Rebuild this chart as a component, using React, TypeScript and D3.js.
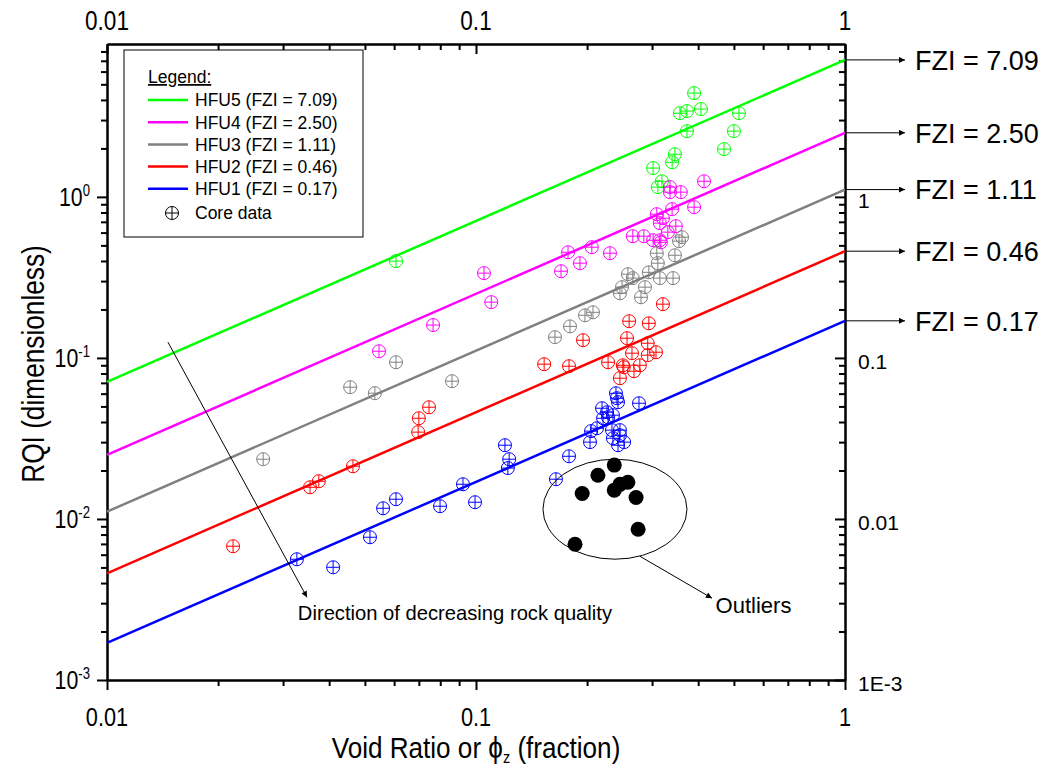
import React, { useRef, useEffect } from "react";
import * as d3 from "d3";

// hydraulic flow units, top to bottom
const unitNames = ["HFU5", "HFU4", "HFU3", "HFU2", "HFU1"];
const fziValues = [7.09, 2.5, 1.11, 0.46, 0.17];
const fziLabels = ["7.09", "2.50", "1.11", "0.46", "0.17"];
const unitColors = ["#00ff00", "#ff00ff", "#808080", "#ff0000", "#0000ff"];

// core data, [void ratio, RQI]
const hfu5Core = [
  [0.39, 4.41], [0.357, 3.31], [0.373, 3.41], [0.407, 3.51], [0.516, 3.31],
  [0.373, 2.56], [0.5, 2.56], [0.47, 1.98], [0.346, 1.84], [0.34, 1.64],
  [0.302, 1.51], [0.319, 1.25], [0.311, 1.15], [0.0607, 0.399],
];
const hfu4Core = [
  [0.415, 1.25], [0.3355, 1.15], [0.3355, 1.07], [0.359, 1.07], [0.39, 0.863],
  [0.34, 0.839], [0.309, 0.781], [0.321, 0.737], [0.315, 0.687], [0.348, 0.658],
  [0.331, 0.604], [0.315, 0.538], [0.266, 0.57], [0.285, 0.57], [0.302, 0.538],
  [0.317, 0.523], [0.206, 0.487], [0.1776, 0.453], [0.2307, 0.447], [0.1913, 0.3875],
  [0.17, 0.3455], [0.1051, 0.336], [0.11, 0.222], [0.0765, 0.16], [0.0546, 0.11],
];
const hfu3Core = [
  [0.3616, 0.562], [0.355, 0.531], [0.309, 0.447], [0.346, 0.434], [0.311, 0.3875],
  [0.294, 0.34], [0.258, 0.331], [0.266, 0.313], [0.315, 0.313], [0.342, 0.313],
  [0.287, 0.275], [0.2487, 0.275], [0.2455, 0.252], [0.28, 0.238], [0.2075, 0.192],
  [0.1974, 0.184], [0.1798, 0.157], [0.1637, 0.1345], [0.0607, 0.094], [0.0456, 0.0658],
  [0.0532, 0.0604], [0.0861, 0.0717], [0.0265, 0.0235],
];
const hfu2Core = [
  [0.321, 0.2157], [0.26, 0.169], [0.294, 0.164], [0.195, 0.1288], [0.2566, 0.1326],
  [0.292, 0.1234], [0.3075, 0.1085], [0.2647, 0.107], [0.292, 0.104], [0.228, 0.094],
  [0.25, 0.09], [0.2515, 0.0876], [0.278, 0.09], [0.268, 0.0827], [0.2455, 0.0748],
  [0.153, 0.0914], [0.1787, 0.0888], [0.0746, 0.0494], [0.07, 0.0422], [0.0697, 0.0346],
  [0.0464, 0.02125], [0.0375, 0.01715], [0.0355, 0.01573], [0.02196, 0.00677],
];
const hfu1Core = [
  [0.2395, 0.0603], [0.241, 0.0562], [0.2426, 0.0531], [0.2765, 0.0523], [0.2196, 0.0487],
  [0.2265, 0.046], [0.235, 0.0441], [0.221, 0.0422], [0.228, 0.0428], [0.2128, 0.0366],
  [0.205, 0.0351], [0.2037, 0.03], [0.2336, 0.0356], [0.2455, 0.0356], [0.235, 0.0317],
  [0.2455, 0.0331], [0.2426, 0.0287], [0.252, 0.03], [0.1198, 0.0287], [0.123, 0.0235],
  [0.122, 0.0207], [0.1787, 0.0245], [0.1647, 0.01765], [0.0922, 0.01642], [0.0994, 0.0127],
  [0.0799, 0.012], [0.0607, 0.01326], [0.056, 0.01165], [0.0516, 0.0077], [0.0327, 0.00562],
  [0.041, 0.00501],
];
const coreByUnit = [hfu5Core, hfu4Core, hfu3Core, hfu2Core, hfu1Core];

const outliers = [
  [0.237, 0.0216], [0.214, 0.0187], [0.194, 0.0144], [0.237, 0.0151], [0.2455, 0.0164],
  [0.258, 0.0169], [0.2715, 0.0136], [0.275, 0.00863], [0.1855, 0.00697],
];

const xMajor = [0.01, 0.1, 1];
const xMajorLabels = ["0.01", "0.1", "1"];
const yMajor = [0.001, 0.01, 0.1, 1];
const yExponents = ["-3", "-2", "-1", "0"];
const yRightLabels = ["1E-3", "0.01", "0.1", "1"];

const sans = "'Liberation Sans', Arial, sans-serif";
const squeeze = 0.82; // no narrow face installed, so squeeze Liberation Sans

const App = () => {
  const svgRef = useRef(null);

  useEffect(() => {
    const svg = d3.select(svgRef.current);
    svg.selectAll("*").remove();
    const width = 1045;
    const height = 770;
    const margin = { top: 44, right: 200, bottom: 90, left: 107 };
    const x = d3.scaleLog().domain([0.01, 1]).range([margin.left, width - margin.right]);
    const y = d3.scaleLog().domain([0.001, 8.9]).range([height - margin.bottom, margin.top]);
    const minorX = x.ticks().filter((v) => !xMajor.includes(v));
    const minorY = y.ticks().filter((v) => !yMajor.some((m) => Math.abs(m - v) < 1e-12));
    const bottom = height - margin.bottom;
    const right = width - margin.right;

    svg.append("rect").attr("width", width).attr("height", height).attr("fill", "#fff");

    svg
      .append("defs")
      .append("marker")
      .attr("id", "arrow")
      .attr("viewBox", "0 0 10 10")
      .attr("refX", 10)
      .attr("refY", 5)
      .attr("markerWidth", 15)
      .attr("markerHeight", 6)
      .attr("markerUnits", "userSpaceOnUse")
      .attr("orient", "auto")
      .append("path")
      .attr("d", "M0,0 L10,5 L0,10 z")
      .attr("fill", "#000");

    // axes (ticks only, labels drawn below)
    const style = (g) =>
      g
        .call((g) => g.selectAll("line").attr("stroke", "#000").attr("stroke-width", 2))
        .call((g) => g.select(".domain").attr("stroke", "#000").attr("stroke-width", 2));
    const axis = (gen, tx, ty, values, size) =>
      svg
        .append("g")
        .attr("transform", `translate(${tx},${ty})`)
        .call(gen.tickValues(values).tickSize(size).tickSizeOuter(0).tickFormat(() => ""))
        .call(style);

    axis(d3.axisBottom(x), 0, bottom, minorX, 6);
    axis(d3.axisBottom(x), 0, bottom, xMajor, 10);
    axis(d3.axisTop(x), 0, margin.top, minorX, -6);
    axis(d3.axisTop(x), 0, margin.top, xMajor, -10);
    axis(d3.axisLeft(y), margin.left, 0, minorY, 6);
    axis(d3.axisLeft(y), margin.left, 0, yMajor, 10);
    axis(d3.axisRight(y), right, 0, minorY, -6);
    axis(d3.axisRight(y), right, 0, yMajor, -10);

    // tick labels
    const narrowText = (px, py, anchor, size, sx = squeeze) =>
      svg
        .append("text")
        .attr("transform", `translate(${px},${py}) scale(${sx},1)`)
        .attr("text-anchor", anchor)
        .attr("font-family", sans)
        .attr("font-size", size);

    xMajor.forEach((v, i) => {
      narrowText(x(v), bottom + 46, "middle", 26.5).text(xMajorLabels[i]);
      narrowText(x(v), margin.top - 14, "middle", 27.5).text(xMajorLabels[i]);
    });
    yMajor.forEach((v, i) => {
      const t = narrowText(margin.left - 17, y(v) + 9, "end", 26);
      t.append("tspan").text("10");
      t.append("tspan").attr("dy", -10).attr("font-size", 16).text(yExponents[i]);
      svg
        .append("text")
        .attr("x", right + 13)
        .attr("y", y(v) + 11)
        .attr("font-family", sans)
        .attr("font-size", 21)
        .text(yRightLabels[i]);
    });

    // axis titles
    svg
      .append("text")
      .attr("transform", `translate(44,${(margin.top + bottom) / 2 + 2}) rotate(-90) scale(${squeeze},1)`)
      .attr("text-anchor", "middle")
      .attr("font-family", sans)
      .attr("font-size", 32)
      .text("RQI (dimensionless)");

    const xTitle = narrowText((margin.left + right) / 2, 758, "middle", 29, 0.9);
    xTitle.append("tspan").text("Void Ratio or ");
    xTitle.append("tspan").text("\u03d5");
    xTitle.append("tspan").attr("dy", 5).attr("font-size", 16).text("z");
    xTitle.append("tspan").attr("dy", -5).text(" (fraction)");

    // FZI lines: RQI = FZI * void ratio
    const line = d3.line().x((d) => x(d[0])).y((d) => y(d[1]));
    fziValues.forEach((f, i) => {
      svg
        .append("path")
        .datum([[0.01, f * 0.01], [1, f]])
        .attr("d", line)
        .attr("fill", "none")
        .attr("stroke", unitColors[i])
        .attr("stroke-width", 2.5);
    });

    // core data markers
    const r = 6.5;
    coreByUnit.forEach((pts, i) => {
      const g = svg
        .append("g")
        .attr("fill", "none")
        .attr("stroke", unitColors[i])
        .attr("stroke-width", 1)
        .selectAll("g")
        .data(pts)
        .join("g")
        .attr("transform", (d) => `translate(${x(d[0])},${y(d[1])})`);
      g.append("circle").attr("r", r);
      g.append("path").attr("d", `M${-r},0H${r}M0,${-r}V${r}`);
    });

    // outliers
    svg
      .append("g")
      .selectAll("circle")
      .data(outliers)
      .join("circle")
      .attr("cx", (d) => x(d[0]))
      .attr("cy", (d) => y(d[1]))
      .attr("r", 7.5)
      .attr("fill", "#000");

    svg
      .append("ellipse")
      .attr("cx", x(0.238))
      .attr("cy", y(0.0115))
      .attr("rx", 72)
      .attr("ry", 50)
      .attr("fill", "none")
      .attr("stroke", "#000")
      .attr("stroke-width", 1);

    svg
      .append("line")
      .attr("x1", x(0.278))
      .attr("y1", y(0.00587))
      .attr("x2", x(0.436))
      .attr("y2", y(0.00322))
      .attr("stroke", "#000")
      .attr("marker-end", "url(#arrow)");
    svg
      .append("text")
      .attr("x", x(0.446))
      .attr("y", y(0.00322) + 15)
      .attr("font-family", sans)
      .attr("font-size", 22)
      .text("Outliers");

    // direction of decreasing quality
    svg
      .append("line")
      .attr("x1", x(0.01463))
      .attr("y1", y(0.1252))
      .attr("x2", x(0.03483))
      .attr("y2", y(0.003264))
      .attr("stroke", "#000")
      .attr("marker-end", "url(#arrow)");
    svg
      .append("text")
      .attr("x", x(0.0329))
      .attr("y", y(0.003264) + 23)
      .attr("font-family", sans)
      .attr("font-size", 20.2)
      .text("Direction of decreasing rock quality");

    // FZI callouts on the right
    fziValues.forEach((f, i) => {
      svg
        .append("line")
        .attr("x1", right)
        .attr("x2", right + 60)
        .attr("y1", y(f))
        .attr("y2", y(f))
        .attr("stroke", "#000")
        .attr("stroke-width", 1)
        .attr("marker-end", "url(#arrow)");
      svg
        .append("text")
        .attr("x", right + 70)
        .attr("y", y(f))
        .attr("dy", "0.36em")
        .attr("font-family", sans)
        .attr("font-size", 27)
        .text(`FZI = ${fziLabels[i]}`);
    });

    // legend
    const legend = svg.append("g").attr("transform", "translate(124,50)");
    legend
      .append("rect")
      .attr("width", 239)
      .attr("height", 187)
      .attr("fill", "#fff")
      .attr("stroke", "#000")
      .attr("stroke-width", 1);
    legend
      .append("text")
      .attr("x", 24)
      .attr("y", 33)
      .attr("font-family", sans)
      .attr("font-size", 17.5)
      .attr("text-decoration", "underline")
      .text("Legend:");
    unitNames.forEach((name, i) => {
      const ly = 50 + i * 22.2;
      legend
        .append("line")
        .attr("x1", 24)
        .attr("x2", 64)
        .attr("y1", ly)
        .attr("y2", ly)
        .attr("stroke", unitColors[i])
        .attr("stroke-width", 2.5);
      legend
        .append("text")
        .attr("x", 71)
        .attr("y", ly)
        .attr("dy", "0.36em")
        .attr("font-family", sans)
        .attr("font-size", 17.5)
        .text(`${name} (FZI = ${fziLabels[i]})`);
    });
    const cy = 50 + 5 * 22.2 + 2;
    const key = legend
      .append("g")
      .attr("transform", `translate(48,${cy})`)
      .attr("fill", "none")
      .attr("stroke", "#000");
    key.append("circle").attr("r", r);
    key.append("path").attr("d", `M${-r},0H${r}M0,${-r}V${r}`);
    legend
      .append("text")
      .attr("x", 71)
      .attr("y", cy)
      .attr("dy", "0.36em")
      .attr("font-family", sans)
      .attr("font-size", 17.5)
      .text("Core data");
  }, []);

  return (
    <svg
      ref={svgRef}
      width="1045"
      height="770"
      style={{ position: "absolute", left: 0, top: 0 }}
    ></svg>
  );
};

export default App;
